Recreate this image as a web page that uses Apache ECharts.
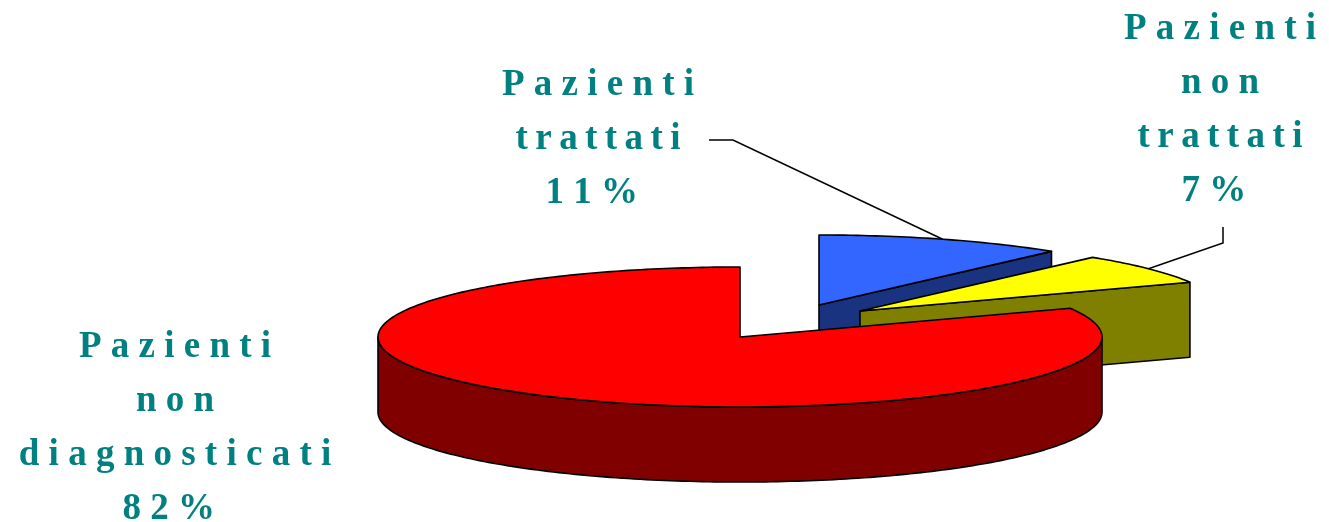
<!DOCTYPE html>
<html>
<head>
<meta charset="utf-8">
<style>html,body{margin:0;padding:0;background:#fff}#c{width:1329px;height:522px}</style>
<script src="https://cdn.jsdelivr.net/npm/echarts@6/dist/echarts.min.js"></script>
</head>
<body>
<div id="c"></div>
<script>
// Data (clockwise from 12 o'clock); labels show the rounded share
const categories = [['Pazienti', 'trattati'], ['Pazienti', 'non', 'trattati'], ['Pazienti', 'non', 'diagnosticati']];
const shares = [11.1, 7.15, 81.75];

// Appearance
const topColors = ['#3366ff', '#ffff00', '#ff0000'];
const wallColors = ['#1a3380', '#808000', '#800000'];
const centers = [[819, 305], [860, 311], [740, 337]];
const labelX = [598, 1220, 175];
const labelY = [85, 29, 347];
const leaderTail = [[[733, 140], [709, 140]], [[1223, 243], [1223, 227]], null];
const RX = 362, RY = 70, DEPTH = 75, LINE_GAP = 54;
const total = shares.reduce((a, b) => a + b, 0);
const spaced = s => s.split('').join(s === 'trattati' ? '\u2009' : ' ');

function startAngle(i) {
  let used = 0;
  for (let k = 0; k < i; k++) used += shares[k];
  return 90 - used / total * 360;
}
function pt(c, deg, dy) {
  const r = deg * Math.PI / 180;
  return [c[0] + RX * Math.cos(r), c[1] - RY * Math.sin(r) + (dy || 0)];
}
function arc(c, from, to, dy) {
  const n = Math.max(2, Math.ceil(Math.abs(from - to)));
  const out = [];
  for (let j = 0; j <= n; j++) out.push(pt(c, from + (to - from) * j / n, dy));
  return out;
}
const edge = { stroke: '#000', lineWidth: 1.6, lineJoin: 'round' };

function renderItem(params, api) {
  const i = params.dataIndex;
  const c = centers[i];
  const a0 = startAngle(i);
  const a1 = a0 - api.value(0) / total * 360;
  const children = [];
  const poly = (points, fill) => children.push({ type: 'polygon', shape: { points }, style: Object.assign({ fill }, edge) });

  // Cut face at the clockwise end
  if (Math.cos(a1 * Math.PI / 180) > 0.001) {
    const e = pt(c, a1);
    poly([c, e, [e[0], e[1] + DEPTH], [c[0], c[1] + DEPTH]], wallColors[i]);
  }
  // Front rim (only where the angle lies under the horizon)
  const rimFrom = Math.min(a0, 0), rimTo = Math.max(a1, -180);
  if (rimFrom > rimTo) {
    poly(arc(c, rimFrom, rimTo, 0).concat(arc(c, rimTo, rimFrom, DEPTH)), wallColors[i]);
  }
  // Top face
  poly([c].concat(arc(c, a0, a1, 0)), topColors[i]);

  // Leader line
  if (leaderTail[i]) {
    children.push({
      type: 'polyline',
      shape: { points: [pt(c, (a0 + a1) / 2)].concat(leaderTail[i]) },
      style: { stroke: '#000', lineWidth: 1.5, fill: null }
    });
  }
  // Label
  const lines = categories[i].map(spaced).concat([spaced(String(Math.round(api.value(0)))) + ' % \u200a']);
  lines.forEach((text, k) => children.push({
    type: 'text',
    style: {
      text, x: labelX[i], y: labelY[i] + k * LINE_GAP,
      align: 'center', verticalAlign: 'middle',
      fontFamily: 'Liberation Serif', fontWeight: 'bold', fontSize: 37, fill: '#008080'
    }
  }));
  return { type: 'group', children };
}

const chart = echarts.init(document.getElementById('c'), null, { renderer: 'canvas' });
chart.setOption({
  animation: false,
  backgroundColor: '#ffffff',
  series: [{
    type: 'custom',
    coordinateSystem: 'none',
    renderItem,
    data: shares.map(v => [v]),
    silent: true
  }]
});
</script>
</body>
</html>
